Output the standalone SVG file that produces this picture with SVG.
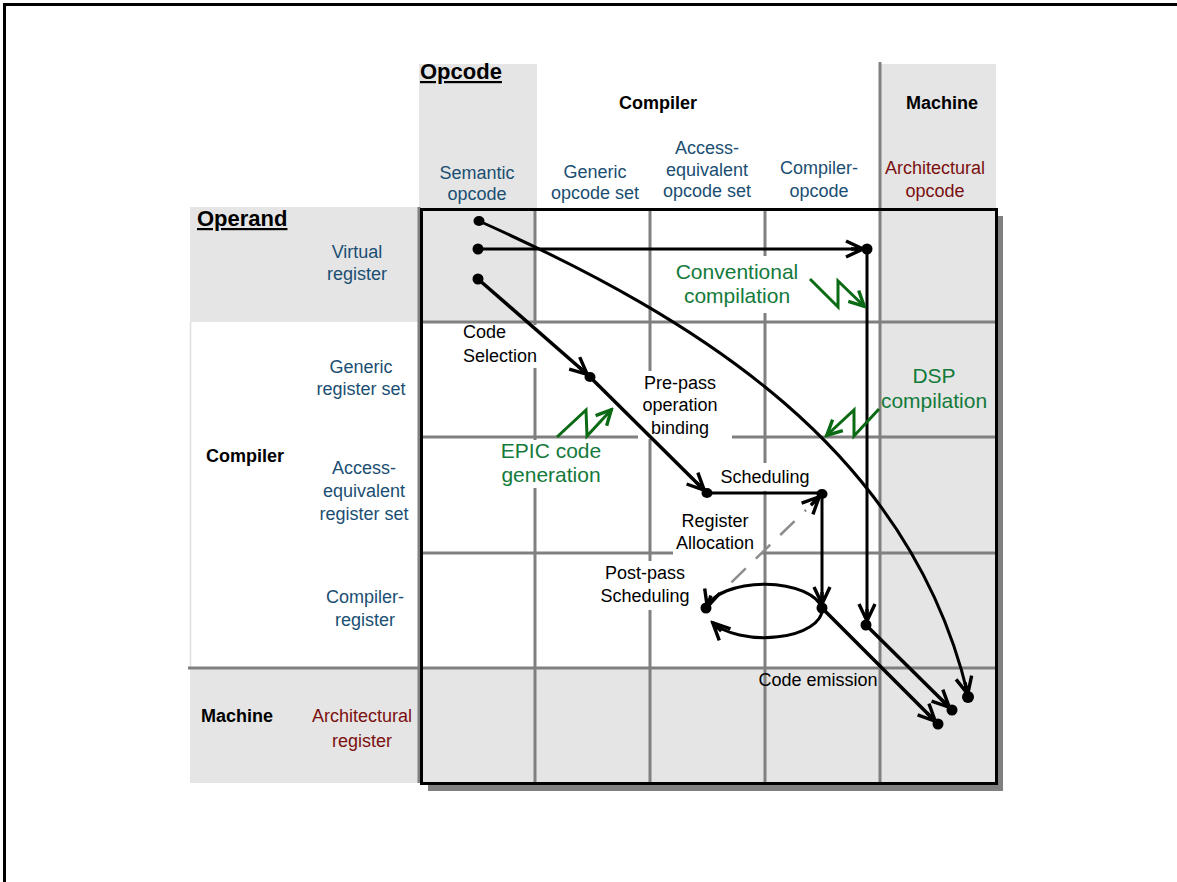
<svg xmlns="http://www.w3.org/2000/svg" width="1177" height="882" viewBox="0 0 1177 882">
<style>
.bg{fill:#e5e5e5}
.gl{stroke:#808080;stroke-width:3;fill:none}
.blue{font-family:"Liberation Sans",Arial,sans-serif;font-size:18px;fill:#1a4e72;text-anchor:middle}
.red{font-family:"Liberation Sans",Arial,sans-serif;font-size:18px;fill:#7b1010;text-anchor:middle}
.hd{font-family:"Liberation Sans",Arial,sans-serif;font-size:18px;font-weight:bold;fill:#000;text-anchor:middle}
.ttl{font-family:"Liberation Sans",Arial,sans-serif;font-size:22px;font-weight:bold;fill:#000;text-decoration:underline}
.lbl{font-family:"Liberation Sans",Arial,sans-serif;font-size:18px;fill:#000;text-anchor:middle}
.lbs{font-family:"Liberation Sans",Arial,sans-serif;font-size:18px;fill:#000;text-anchor:start}
.grn{font-family:"Liberation Sans",Arial,sans-serif;font-size:21px;fill:#137a3a;text-anchor:middle}
.ln{stroke:#000;fill:none;stroke-width:3}
.thk{stroke:#000;fill:none;stroke-width:3.5}
.zz{stroke:#0b6a14;fill:none;stroke-width:3}
.wb{fill:#fff}
</style>
<defs>
<marker id="ah" markerUnits="userSpaceOnUse" markerWidth="24" markerHeight="24" viewBox="-22 -12 24 24" refX="0" refY="0" orient="auto">
<path d="M-18,-8 L-1,0 L-18,8 M-13,0 L-1,0" fill="none" stroke="#000" stroke-width="3.4"/>
</marker>
<marker id="gh" markerUnits="userSpaceOnUse" markerWidth="24" markerHeight="24" viewBox="-22 -12 24 24" refX="0" refY="0" orient="auto">
<path d="M-16,-7.5 L-1,0 L-16,7.5" fill="none" stroke="#0b6a14" stroke-width="3.4"/>
</marker>
</defs>

<g id="frame">
<line x1="3" y1="4.5" x2="1177" y2="4.5" stroke="#000" stroke-width="3"/>
<line x1="4.5" y1="3" x2="4.5" y2="882" stroke="#000" stroke-width="3"/>
</g>

<g id="matrix">
<rect class="bg" x="419" y="64" width="118" height="145"/>
<rect class="bg" x="881" y="64" width="115" height="145"/>
<rect class="bg" x="190" y="207" width="231" height="115"/>
<rect class="bg" x="190" y="668" width="231" height="115"/>
<rect x="428" y="216" width="575" height="575" fill="#808080"/>
<rect x="421" y="209" width="575" height="574" fill="#fff"/>
<rect class="bg" x="421" y="209" width="114" height="113"/>
<rect class="bg" x="880" y="209" width="116" height="574"/>
<rect class="bg" x="421" y="668" width="575" height="115"/>
<line x1="190.5" y1="322" x2="190.5" y2="668" stroke="#e0e0e0" stroke-width="1.5"/>
<path class="gl" d="M419,207 V783 M535,209 V783 M650,209 V783 M765,209 V783 M880,62 V783 M421,322 H996 M421,437 H996 M421,553 H996 M188,668 H996"/>
<rect x="421.5" y="209.5" width="575" height="574" fill="none" stroke="#000" stroke-width="3"/>
</g>

<g id="connectors-under">
<path class="ln" stroke-width="2.5" d="M479,221 C700,320 910,450 968,695" marker-end="url(#ah)"/>
</g>

<g id="label-backs">
<rect class="wb" x="462" y="325" width="78" height="43"/>
<rect class="wb" x="638" y="371" width="94" height="68"/>
<rect class="wb" x="664" y="256" width="142" height="57"/>
<rect class="wb" x="495" y="440" width="112" height="48"/>
<rect class="wb" x="715" y="463" width="100" height="28"/>
<rect class="wb" x="673" y="511" width="89" height="45"/>
<rect class="wb" x="597" y="561" width="99" height="49"/>
</g>

<g id="col-headers">
<text class="ttl" x="420" y="79">Opcode</text>
<text class="hd" x="658" y="109">Compiler</text>
<text class="hd" x="942" y="109">Machine</text>
<g id="col-semantic"><text class="blue" x="477" y="179">Semantic</text><text class="blue" x="477" y="200">opcode</text></g>
<g id="col-generic"><text class="blue" x="595" y="178">Generic</text><text class="blue" x="595" y="199">opcode set</text></g>
<g id="col-access"><text class="blue" x="707" y="154">Access-</text><text class="blue" x="707" y="176">equivalent</text><text class="blue" x="707" y="197">opcode set</text></g>
<g id="col-compiler"><text class="blue" x="819" y="174">Compiler-</text><text class="blue" x="819" y="197">opcode</text></g>
<g id="col-arch"><text class="red" x="935" y="174">Architectural</text><text class="red" x="935" y="197">opcode</text></g>
</g>

<g id="row-headers">
<text class="ttl" x="197" y="226">Operand</text>
<text class="hd" x="245" y="462">Compiler</text>
<text class="hd" x="237" y="722">Machine</text>
<g id="row-virtual"><text class="blue" x="357" y="258">Virtual</text><text class="blue" x="357" y="280">register</text></g>
<g id="row-generic"><text class="blue" x="361" y="373">Generic</text><text class="blue" x="361" y="395">register set</text></g>
<g id="row-access"><text class="blue" x="364" y="474">Access-</text><text class="blue" x="364" y="497">equivalent</text><text class="blue" x="364" y="520">register set</text></g>
<g id="row-compiler"><text class="blue" x="365" y="603">Compiler-</text><text class="blue" x="365" y="626">register</text></g>
<g id="row-arch"><text class="red" x="362" y="722">Architectural</text><text class="red" x="362" y="747">register</text></g>
</g>

<g id="step-labels">
<g id="code-selection"><text class="lbs" x="463" y="338">Code</text><text class="lbs" x="463" y="362">Selection</text></g>
<g id="prepass"><text class="lbl" x="680" y="389">Pre-pass</text><text class="lbl" x="680" y="411">operation</text><text class="lbl" x="680" y="434">binding</text></g>
<g id="scheduling"><text class="lbl" x="765" y="483">Scheduling</text></g>
<g id="regalloc"><text class="lbl" x="715" y="527">Register</text><text class="lbl" x="715" y="549">Allocation</text></g>
<g id="postpass"><text class="lbl" x="645" y="579">Post-pass</text><text class="lbl" x="645" y="602">Scheduling</text></g>
<g id="code-emission"><text class="lbl" x="818" y="686">Code emission</text></g>
<g id="conventional"><text class="grn" x="737" y="279">Conventional</text><text class="grn" x="737" y="303">compilation</text></g>
<g id="dsp"><text class="grn" x="934" y="383">DSP</text><text class="grn" x="934" y="408">compilation</text></g>
<g id="epic"><text class="grn" x="551" y="458">EPIC code</text><text class="grn" x="551" y="482">generation</text></g>
</g>

<g id="connectors">
<path class="ln" d="M478,249 H864" marker-end="url(#ah)"/>
<path class="ln" d="M867,249 V622" marker-end="url(#ah)"/>
<path class="thk" d="M478,279 L588,375" marker-end="url(#ah)"/>
<path class="thk" d="M590,377 L705,491" marker-end="url(#ah)"/>
<path class="ln" d="M707,493 H820"/>
<path d="M707,606 L806,510" stroke="#8c8c8c" stroke-width="2.5" stroke-dasharray="20 14" fill="none"/>
<path d="M806,510 L820,496" stroke="none" fill="none" marker-end="url(#ah)"/>
<path class="ln" d="M822,494 V605" marker-end="url(#ah)"/>
<path class="ln" stroke-width="2.5" d="M822,609 A58,28 0 0 0 707,608" marker-end="url(#ah)"/>
<path class="ln" stroke-width="2.5" d="M822,609 A58,28 0 0 1 712,622" marker-end="url(#ah)"/>
<path class="thk" d="M822,608 L936,722" marker-end="url(#ah)"/>
<path class="thk" d="M866,625 L950,708" marker-end="url(#ah)"/>
<path class="zz" d="M810,279 L838,307 L838,281 L865,307" marker-end="url(#gh)"/>
<path class="zz" d="M879,409 L854,436 L854,410 L826,436" marker-end="url(#gh)"/>
<path class="zz" d="M557,437 L586,410 L587,436 L612,409" marker-end="url(#gh)"/>
</g>

<g id="dots" fill="#000">
<ellipse cx="479" cy="221" rx="5.5" ry="5"/>
<ellipse cx="478" cy="249" rx="5.5" ry="5.5"/>
<ellipse cx="478" cy="279" rx="5.5" ry="5.5"/>
<ellipse cx="590" cy="377" rx="5.5" ry="5"/>
<ellipse cx="707" cy="493" rx="5.5" ry="5"/>
<ellipse cx="822" cy="494" rx="5.5" ry="5"/>
<ellipse cx="867" cy="249" rx="5.5" ry="5.5"/>
<ellipse cx="822" cy="608" rx="5.5" ry="5.5"/>
<ellipse cx="706" cy="608" rx="5.5" ry="5.5"/>
<ellipse cx="866" cy="625" rx="5.5" ry="5.5"/>
<ellipse cx="938" cy="724" rx="5.5" ry="5.5"/>
<ellipse cx="952" cy="710" rx="5.5" ry="5.5"/>
<ellipse cx="968" cy="697" rx="6" ry="6"/>
</g>
</svg>
